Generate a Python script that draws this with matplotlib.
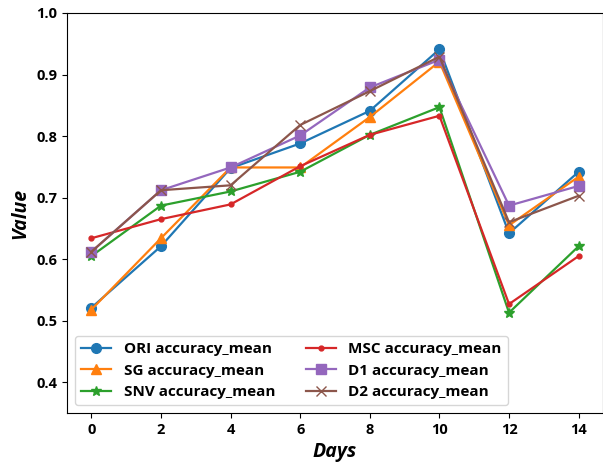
import matplotlib.pyplot as plt

plt.rcParams['font.family'] = ['Open Sans', 'DejaVu Sans']

days = [0, 2, 4, 6, 8, 10, 12, 14]
ori = [0.521, 0.621, 0.748, 0.788, 0.841, 0.941, 0.642, 0.742]
sg = [0.518, 0.634, 0.749, 0.749, 0.831, 0.921, 0.655, 0.734]
snv = [0.605, 0.687, 0.710, 0.742, 0.802, 0.847, 0.513, 0.621]
msc = [0.634, 0.665, 0.689, 0.751, 0.802, 0.833, 0.527, 0.605]
d1 = [0.612, 0.712, 0.749, 0.801, 0.879, 0.924, 0.687, 0.719]
d2 = [0.612, 0.712, 0.720, 0.818, 0.873, 0.929, 0.660, 0.703]

series = [
    ('ORI accuracy_mean', ori, 'o'),
    ('SG accuracy_mean', sg, '^'),
    ('SNV accuracy_mean', snv, '*'),
    ('MSC accuracy_mean', msc, '.'),
    ('D1 accuracy_mean', d1, 's'),
    ('D2 accuracy_mean', d2, 'x'),
]

fig, ax = plt.subplots(figsize=(6.03, 4.73), dpi=100)
fig.subplots_adjust(left=67/603, right=1.0, top=1 - 13/473, bottom=1 - 413/473)

for nombre, valores, marca in series:
    ax.plot(days, valores, marker=marca, label=nombre, lw=1.6, markersize=7)

ax.set_ylim(0.35, 1.0)
ax.set_xticks(range(0, 15, 2))
ax.set_yticks([0.4, 0.5, 0.6, 0.7, 0.8, 0.9, 1.0])
ax.tick_params(labelsize=10.5)
for lbl in ax.get_xticklabels() + ax.get_yticklabels():
    lbl.set_fontweight('bold')

ax.set_xlabel('Days', fontsize=14, fontweight='bold', fontstyle='italic')
ax.set_ylabel('Value', fontsize=14, fontweight='bold', fontstyle='italic')
ax.legend(loc='lower left', ncol=2, prop={'weight': 'bold', 'size': 11})

plt.savefig('out.png')
